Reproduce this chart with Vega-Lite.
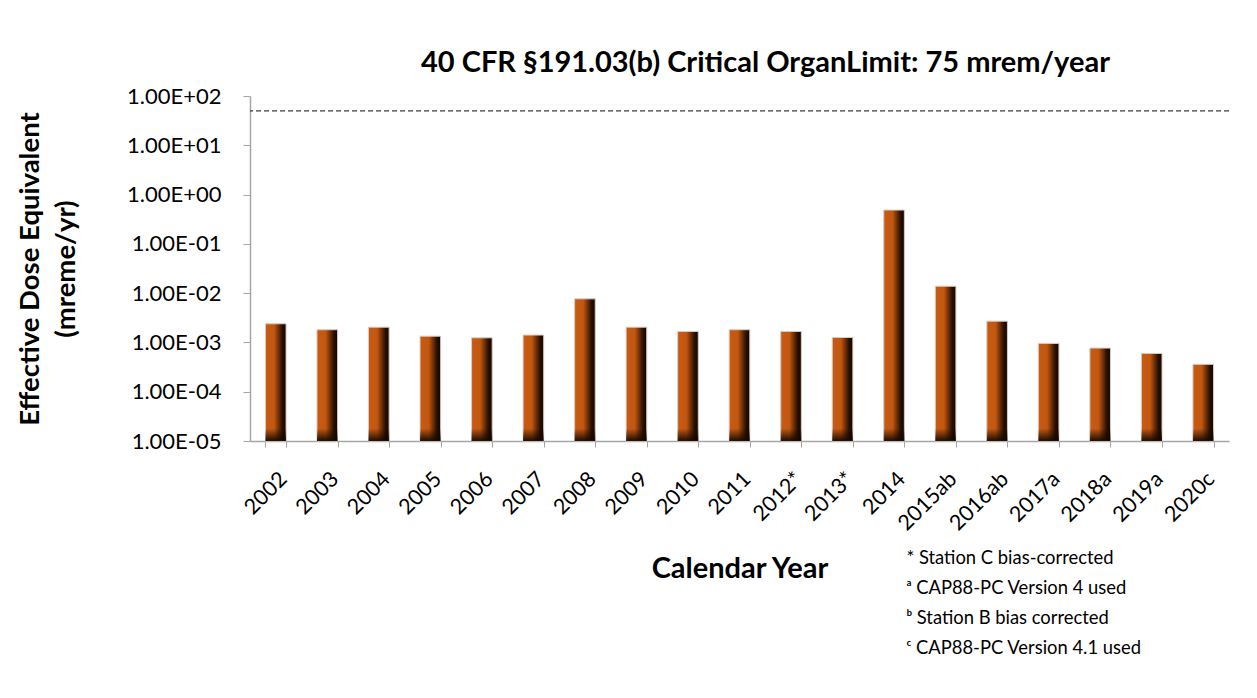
{
  "$schema": "https://vega.github.io/schema/vega-lite/v6.json",
  "width": 979,
  "height": 345,
  "autosize": {"type": "none"},
  "padding": {"left": 250, "top": 96, "right": 28, "bottom": 257},
  "background": "white",
  "title": {
    "text": "40 CFR §191.03(b) Critical OrganLimit: 75 mrem/year",
    "font": "Lato",
    "fontSize": 29,
    "fontWeight": "bold",
    "color": "#000000",
    "anchor": "middle",
    "dx": 26,
    "offset": 7
  },
  "datasets": {
    "doses": [
      {"year": "2002", "dose": 0.00239},
      {"year": "2003", "dose": 0.00181},
      {"year": "2004", "dose": 0.00204},
      {"year": "2005", "dose": 0.00134},
      {"year": "2006", "dose": 0.00124},
      {"year": "2007", "dose": 0.00141},
      {"year": "2008", "dose": 0.00766},
      {"year": "2009", "dose": 0.00204},
      {"year": "2010", "dose": 0.00167},
      {"year": "2011", "dose": 0.00181},
      {"year": "2012*", "dose": 0.00167},
      {"year": "2013*", "dose": 0.00126},
      {"year": "2014", "dose": 0.485},
      {"year": "2015ab", "dose": 0.0138},
      {"year": "2016ab", "dose": 0.0027},
      {"year": "2017a", "dose": 0.000955},
      {"year": "2018a", "dose": 0.000767},
      {"year": "2019a", "dose": 0.000598},
      {"year": "2020c", "dose": 0.000359}
    ],
    "limit": [
      {"limit": 50}
    ],
    "notes": [
      {"note": "* Station C bias-corrected"},
      {"note": "ᵃ CAP88-PC Version 4 used"},
      {"note": "ᵇ Station B bias corrected"},
      {"note": "ᶜ CAP88-PC Version 4.1 used"}
    ]
  },
  "layer": [
    {
      "data": {"name": "doses"},
      "mark": {
        "type": "bar",
        "stroke": "#d9cbc5",
        "strokeWidth": 1,
        "color": {
          "gradient": "linear",
          "x1": 0, "x2": 1, "y1": 0, "y2": 0,
          "stops": [
            {"offset": 0, "color": "#c85b12"},
            {"offset": 0.42, "color": "#c25710"},
            {"offset": 0.65, "color": "#6a2d08"},
            {"offset": 0.82, "color": "#281002"},
            {"offset": 1, "color": "#120600"}
          ]
        }
      },
      "encoding": {
        "x": {
          "field": "year",
          "type": "nominal",
          "sort": null,
          "scale": {"paddingInner": 0.6, "paddingOuter": 0.3},
          "axis": {
            "title": "Calendar Year",
            "titleFont": "Lato",
            "titleFontSize": 29,
            "titleFontWeight": "bold",
            "titleColor": "#000000",
            "titlePadding": 20,
            "labelAngle": -45,
            "labelFont": "Lato",
            "labelFontSize": 21.5,
            "labelColor": "#000000",
            "labelPadding": 21,
            "tickBand": "extent",
            "tickSize": 6,
            "tickColor": "#a6a6a6",
            "domainColor": "#a6a6a6",
            "domainWidth": 1.5,
            "grid": false
          }
        },
        "y": {
          "field": "dose",
          "type": "quantitative",
          "scale": {"type": "log", "domain": [0.00001, 100]},
          "axis": {
            "title": ["Effective Dose Equivalent", "(mreme/yr)"],
            "titleFont": "Lato",
            "titleFontSize": 27.5,
            "titleFontWeight": "bold",
            "titleColor": "#000000",
            "titleLineHeight": 36,
            "titlePadding": 46,
            "values": [0.00001, 0.0001, 0.001, 0.01, 0.1, 1, 10, 100],
            "labelExpr": "'1.00E' + (round(log(datum.value)/LN10) >= 0 ? '+' : '-') + (abs(round(log(datum.value)/LN10)) < 10 ? '0' : '') + abs(round(log(datum.value)/LN10))",
            "labelFont": "Lato",
            "labelFontSize": 22,
            "labelColor": "#000000",
            "labelPadding": 22,
            "tickSize": 7,
            "tickColor": "#a6a6a6",
            "domainColor": "#a6a6a6",
            "domainWidth": 1.5,
            "grid": false
          }
        },
        "y2": {"datum": 0.00001}
      }
    },
    {
      "data": {"name": "doses"},
      "mark": {
        "type": "bar",
        "color": {
          "gradient": "linear",
          "x1": 0, "x2": 0, "y1": 0, "y2": 1,
          "stops": [
            {"offset": 0, "color": "rgba(20,8,0,0)"},
            {"offset": 1, "color": "rgba(20,8,0,0.95)"}
          ]
        }
      },
      "encoding": {
        "x": {"field": "year", "type": "nominal", "sort": null},
        "y": {"datum": 0.00001},
        "y2": {"datum": 0.000018}
      }
    },
    {
      "data": {"name": "limit"},
      "mark": {"type": "rule", "color": "#3a3a3a", "strokeWidth": 1.3, "strokeDash": [5, 3]},
      "encoding": {"y": {"field": "limit", "type": "quantitative"}}
    },
    {
      "data": {"name": "notes"},
      "mark": {"type": "point", "opacity": 0},
      "encoding": {
        "color": {
          "field": "note",
          "type": "nominal",
          "scale": {
            "domain": ["* Station C bias-corrected", "ᵃ CAP88-PC Version 4 used", "ᵇ Station B bias corrected", "ᶜ CAP88-PC Version 4.1 used"],
            "range": ["#000000", "#000000", "#000000", "#000000"]
          },
          "legend": {
            "title": null,
            "orient": "none",
            "legendX": 638,
            "legendY": 453,
            "symbolSize": 0,
            "symbolStrokeWidth": 0,
            "symbolOpacity": 0,
            "labelOffset": 0,
            "labelFont": "Lato",
            "labelFontSize": 18.4,
            "labelColor": "#000000",
            "labelLimit": 400,
            "rowPadding": 11
          }
        }
      }
    }
  ],
  "config": {
    "view": {"stroke": null}
  }
}
